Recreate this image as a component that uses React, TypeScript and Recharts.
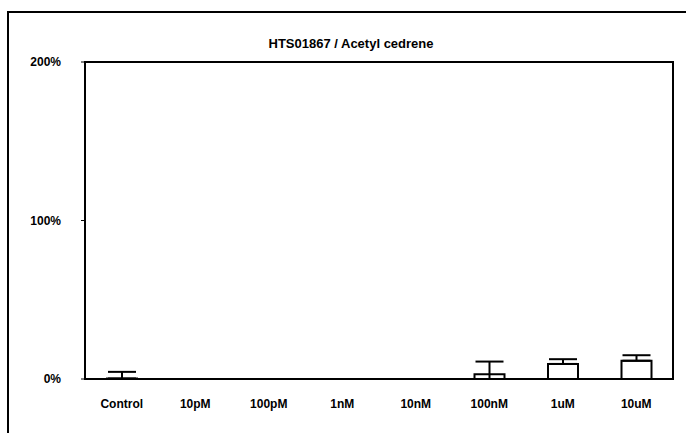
import React from "react";
import { BarChart, Bar, XAxis, YAxis, ErrorBar, ReferenceArea } from "recharts";

const categories = ["Control", "10pM", "100pM", "1nM", "10nM", "100nM", "1uM", "10uM"];
const values = [0.3, 0, 0, 0, 0, 3, 9.5, 11.5];
const errLow = [0, 0, 0, 0, 0, 3, 0, 0];
const errHigh = [4.2, 0, 0, 0, 0, 8, 3, 3.5];
const yTicks = [0, 100, 200];
const title = "HTS01867 / Acetyl cedrene";

const data = categories.map((c, i) => ({
  name: c,
  value: values[i],
  err: [errLow[i], errHigh[i]],
}));

const font = "'Liberation Sans', Arial, sans-serif";

export default function App() {
  return (
    <div style={{ position: "absolute", left: 0, top: 0, width: 686, height: 433, overflow: "hidden", background: "#fff", fontFamily: font }}>
      <div style={{ position: "absolute", left: 7, top: 11, width: 679, height: 422, borderLeft: "2px solid #000", borderTop: "2px solid #000", boxSizing: "border-box" }} />
      <div style={{ position: "absolute", left: 0, width: 702, top: 36, textAlign: "center", fontSize: 13, fontWeight: "bold", color: "#000" }}>
        {title}
      </div>
      <div style={{ position: "absolute", left: 0, top: 0 }}>
        <BarChart width={686} height={433} data={data} margin={{ top: 62, right: 13, bottom: 22, left: 0 }} barCategoryGap="0%">
          <ReferenceArea y1={0} y2={200} fill="none" stroke="#000" strokeWidth={2} ifOverflow="visible" />
          <XAxis
            dataKey="name"
            axisLine={false}
            tickLine={false}
            height={32}
            tickMargin={14}
            tick={{ fill: "#000", fontSize: 12, fontWeight: "bold", fontFamily: font }}
            interval={0}
          />
          <YAxis
            domain={[0, 200]}
            ticks={yTicks}
            width={85}
            axisLine={false}
            tickLine={{ stroke: "#000" }}
            tickSize={4}
            tickMargin={20}
            tickFormatter={(v) => `${v}%`}
            tick={{ fill: "#000", fontSize: 12, fontWeight: "bold", fontFamily: font }}
          />
          <Bar dataKey="value" fill="#fff" stroke="#000" strokeWidth={2} barSize={30} isAnimationActive={false}>
            <ErrorBar dataKey="err" width={14} stroke="#000" strokeWidth={2} direction="y" />
          </Bar>
        </BarChart>
      </div>
    </div>
  );
}
